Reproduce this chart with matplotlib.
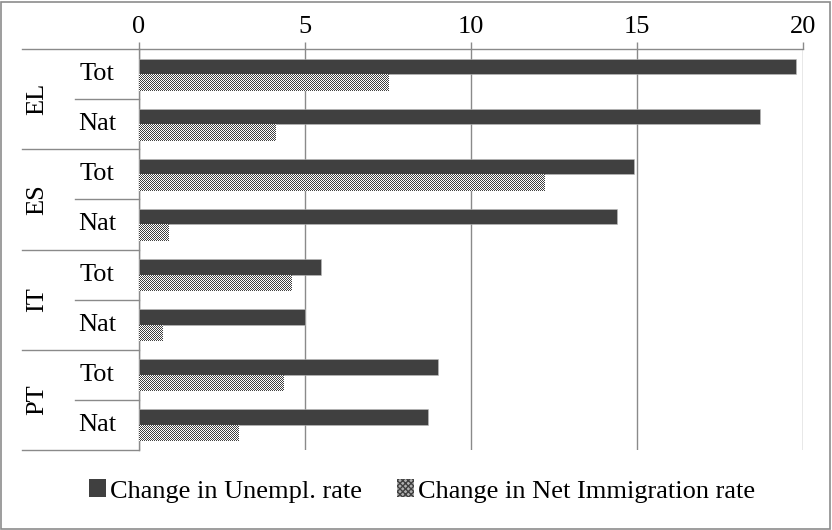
import numpy as np
import matplotlib
matplotlib.use("Agg")
import matplotlib.pyplot as plt
from matplotlib.colors import ListedColormap
from matplotlib.transforms import blended_transform_factory
from matplotlib.lines import Line2D
from matplotlib.patches import Rectangle

plt.rcParams['font.family'] = ['Liberation Serif', 'DejaVu Serif']

countries = ["EL", "ES", "IT", "PT"]
subgroups = ["Tot", "Nat"]
unempl = [19.8, 18.7, 14.9, 14.4, 5.5, 5.0, 9.0, 8.7]
immig = [7.5, 4.1, 12.2, 0.9, 4.6, 0.7, 4.35, 3.0]
xticks = [0, 5, 10, 15, 20]
series_names = ["Change in Unempl. rate", "Change in Net Immigration rate"]

W, H = 832, 530
FS = 19
fig = plt.figure(figsize=(W / 100, H / 100), dpi=100)
fig.patch.set_facecolor("white")
fig.add_artist(Rectangle((1 / W, 1 / H), (W - 3) / W, (H - 3) / H,
                         transform=fig.transFigure, fill=False,
                         edgecolor="#8c8c8c", linewidth=1.2))

ax_l, ax_r, ax_t, ax_b = 138.5, 803, 49, 450
ax = fig.add_axes([ax_l / W, 1 - ax_b / H, (ax_r - ax_l) / W, (ax_b - ax_t) / H])

grid_col = "#8a8a8a"
dark = "#404040"
n = len(unempl)
y = np.arange(n)
bh = 0.31

ax.barh(y - bh / 2, unempl, height=bh, color=dark, edgecolor="#bdbdbd",
        linewidth=0.4, zorder=3, label=series_names[0])
hb = ax.barh(y + bh / 2, immig, height=bh, color="none", linewidth=0,
             zorder=3, label=series_names[1])

# pixel-aligned checkerboard texture, clipped to each bar of the second series
ii, jj = np.indices((H, W))
checker = ((ii + jj) % 2).astype(float)
cmap_checker = ListedColormap([dark, "white"])
for rect in hb.patches:
    im = fig.figimage(checker, xo=0, yo=0, cmap=cmap_checker, zorder=3)
    im.set_clip_path(rect)

ax.set_xlim(0, 20)
ax.set_ylim(n - 0.5, -0.5)
ax.set_xticks(xticks)
ax.xaxis.tick_top()
ax.tick_params(axis="x", length=5, width=1, color=grid_col, labelsize=FS, pad=3)
ax.set_yticks([])
ax.grid(axis="x", color=grid_col, linewidth=1, zorder=0)
ax.set_axisbelow(True)
ax.patch.set_alpha(0)
for s in ["right", "bottom"]:
    ax.spines[s].set_visible(False)
for s in ["top", "left"]:
    ax.spines[s].set_color(grid_col)
    ax.spines[s].set_linewidth(1)

# two-level category labels on the left
tr = blended_transform_factory(fig.transFigure, ax.transData)
x_outer, x_inner, x_axis = 22 / W, 75 / W, ax_l / W
for g, c in enumerate(countries):
    ax.text(37 / W, 2 * g + 0.5, c, transform=tr, rotation=90, fontsize=FS,
            ha="center", va="center")
    for k, sub in enumerate(subgroups):
        ax.text(97 / W, 2 * g + k, sub, transform=tr, fontsize=FS,
                ha="center", va="center")
for yb in np.arange(-0.5, n, 2):
    ax.add_line(Line2D([x_outer, x_axis], [yb, yb], transform=tr,
                       color=grid_col, linewidth=1, clip_on=False))
for yb in np.arange(0.5, n, 2):
    ax.add_line(Line2D([x_inner, x_axis], [yb, yb], transform=tr,
                       color=grid_col, linewidth=1, clip_on=False))

# legend
h1 = Rectangle((0, 0), 1, 1, facecolor=dark, edgecolor="none")
h2 = Rectangle((0, 0), 1, 1, facecolor="#b0b0b0", edgecolor="#404040",
               hatch="xxxxxx", linewidth=0)
fig.legend([h1, h2], series_names, loc="center", bbox_to_anchor=(422 / W, 1 - 491 / H),
           ncol=2, frameon=False, fontsize=FS, handlelength=0.65, handleheight=0.65,
           handletextpad=0.15, columnspacing=1.3)

fig.savefig("out.png", dpi=100)
